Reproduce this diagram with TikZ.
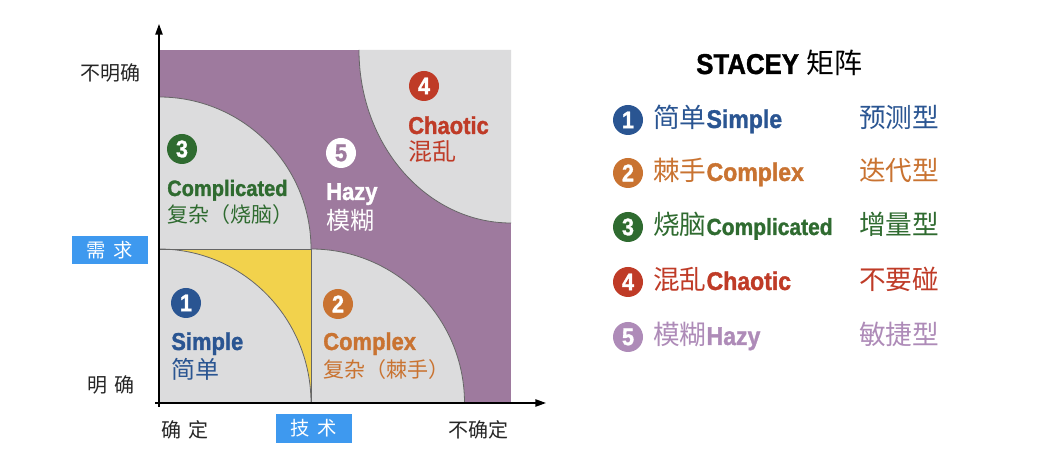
\documentclass[tikz,border=0pt]{standalone}
\usepackage{fontspec}
\setmainfont{Liberation Sans}
\newfontfamily\cjk{Noto Sans CJK SC}
\newfontfamily\heavy[FakeBold=1.3, FakeStretch=0.9]{Liberation Sans Bold}
\usetikzlibrary{arrows.meta}
\definecolor{cBlue}{HTML}{2A5592}
\definecolor{cOrange}{HTML}{C97331}
\definecolor{cGreen}{HTML}{2F6B30}
\definecolor{cRed}{HTML}{BF3B27}
\definecolor{cPurpleL}{HTML}{AE8BB8}
\definecolor{cPurple}{HTML}{9E7A9E}
\definecolor{cGray}{HTML}{DCDCDD}
\definecolor{cYellow}{HTML}{F2D24C}
\definecolor{cBox}{HTML}{3E99EF}
\begin{document}
\begin{tikzpicture}[x=0.75pt,y=0.75pt,
  edge/.style={draw=black!60, line width=0.6pt},
  axis/.style={line width=1.1pt, -{Triangle[length=8pt,width=5.5pt]}},
  num/.style={circle, inner sep=0pt, minimum size=22.5pt, font=\heavy\fontsize{18}{18}\selectfont, text=white},
  lab/.style={anchor=base west, inner sep=0pt},
  latm/.style={font=\heavy\fontsize{18.3}{19}\selectfont},
  cjkm/.style={font=\cjk\fontsize{18}{18}\selectfont},
  cjks/.style={font=\cjk\fontsize{15.75}{16}\selectfont},
  axl/.style={font=\cjk\fontsize{15}{15}\selectfont, text=black!85, inner sep=0pt},
  tagbox/.style={fill=cBox, text=white, minimum width=57pt, minimum height=21pt, inner sep=0pt, font=\cjk\fontsize{14.5}{14.5}\selectfont},
  rcol/.style={anchor=base west, inner sep=0pt, font=\cjk\fontsize{20}{20}\selectfont},
]
\fill[white] (0,0) rectangle (1054,474);
\useasboundingbox (0,0) rectangle (1054,474);

% regions
\fill[cPurple] (159,71) rectangle (511,424);
\fill[cYellow] (159,71) rectangle (311,225);
\fill[cGray] (159,71) -- (311,71) arc[start angle=0,end angle=90,x radius=152,y radius=154] -- cycle;
\fill[cGray] (159,225) -- (311,225) arc[start angle=0,end angle=90,radius=152] -- cycle;
\fill[cGray] (311,71) -- (464.5,71) arc[start angle=0,end angle=90,x radius=153.5,y radius=154] -- cycle;
\fill[cGray] (511,424) -- (359,424) arc[start angle=180,end angle=270,x radius=152,y radius=173] -- cycle;

% outlines
\draw[edge] (311,71) arc[start angle=0,end angle=90,x radius=152,y radius=154];
\draw[edge] (311,225) arc[start angle=0,end angle=90,radius=152];
\draw[edge] (464.5,71) arc[start angle=0,end angle=90,x radius=153.5,y radius=154];
\draw[edge] (359,424) arc[start angle=180,end angle=270,x radius=152,y radius=173];
\draw[edge] (159,225) -- (311,225) -- (311,71);

% axes
\coordinate (ybot) at (159,67);
\coordinate (ytop) at (159,450);
\coordinate (xleft) at (155,71);
\coordinate (xright) at (546,71);
\draw[axis] (ybot) -- (ytop);
\draw[axis] (xleft) -- (xright);

% axis labels
\node[axl] (unclearR) at (110,401) {不明确};
\node[axl] (clearR) at (111,89) {明\hspace{5pt}确};
\node[axl] (certT) at (185,44) {确\hspace{5pt}定};
\node[axl] (uncertT) at (478,44) {不确定};
\node[tagbox] (req) at (110,223.5) {需\hspace{6pt}求};
\node[tagbox, minimum height=22pt] (tech) at (314,45.5) {技\hspace{6pt}术};

% matrix circles
\node[num, fill=cGreen] (n3) at (182,325) {3};
\node[num, fill=cBlue] (n1) at (186,171) {1};
\node[num, fill=cOrange] (n2) at (338,170) {2};
\node[num, fill=white, text=cPurple] (n5) at (341,321) {5};
\node[num, fill=cRed] (n4) at (424,388) {4};

% matrix labels
\node[lab, text=cGreen, font=\heavy\fontsize{16.7}{17}\selectfont] (t3) at (167,278) {Complicated};
\node[lab, text=cGreen, cjks] (c3) at (167,251) {复杂（烧脑）};
\node[lab, text=cBlue, latm] (t1) at (171,124) {Simple};
\node[lab, text=cBlue, cjkm] (c1) at (171,95) {简单};
\node[lab, text=cOrange, latm] (t2) at (323,124) {Complex};
\node[lab, text=cOrange, cjks] (c2) at (323,96) {复杂（棘手）};
\node[lab, text=white, latm] (t5) at (326,274) {Hazy};
\node[lab, text=white, cjkm] (c5) at (326,244) {模糊};
\node[lab, text=cRed, latm] (t4) at (408,340) {Chaotic};
\node[lab, text=cRed, cjkm] (c4) at (408,313) {混乱};

% legend
\node[lab, font=\heavy\fontsize{21.5}{22}\selectfont] (title) at (696,400) {STACEY {\cjk\fontsize{21}{21}\selectfont 矩阵}};

\node[num, fill=cBlue] (L1) at (628,354) {1};
\node[num, fill=cOrange] (L2) at (628,301) {2};
\node[num, fill=cGreen] (L3) at (628,247) {3};
\node[num, fill=cRed] (L4) at (628,192) {4};
\node[num, fill=cPurpleL] (L5) at (628,137) {5};

\node[lab, text=cBlue] (R1) at (653,346) {{\cjk\fontsize{20}{20}\selectfont 简单}{\heavy\fontsize{19.2}{20}\selectfont Simple}};
\node[lab, text=cOrange] (R2) at (653,293) {{\cjk\fontsize{20}{20}\selectfont 棘手}{\heavy\fontsize{19.2}{20}\selectfont Complex}};
\node[lab, text=cGreen] (R3) at (653,239) {{\cjk\fontsize{20}{20}\selectfont 烧脑}{\heavy\fontsize{17.5}{20}\selectfont Complicated}};
\node[lab, text=cRed] (R4) at (653,184) {{\cjk\fontsize{20}{20}\selectfont 混乱}{\heavy\fontsize{19.2}{20}\selectfont Chaotic}};
\node[lab, text=cPurpleL] (R5) at (653,129) {{\cjk\fontsize{20}{20}\selectfont 模糊}{\heavy\fontsize{19.2}{20}\selectfont Hazy}};

\node[rcol, text=cBlue] (P1) at (859,346) {预测型};
\node[rcol, text=cOrange] (P2) at (859,293) {迭代型};
\node[rcol, text=cGreen] (P3) at (859,239) {增量型};
\node[rcol, text=cRed] (P4) at (859,184) {不要碰};
\node[rcol, text=cPurpleL] (P5) at (859,129) {敏捷型};
\end{tikzpicture}
\end{document}
